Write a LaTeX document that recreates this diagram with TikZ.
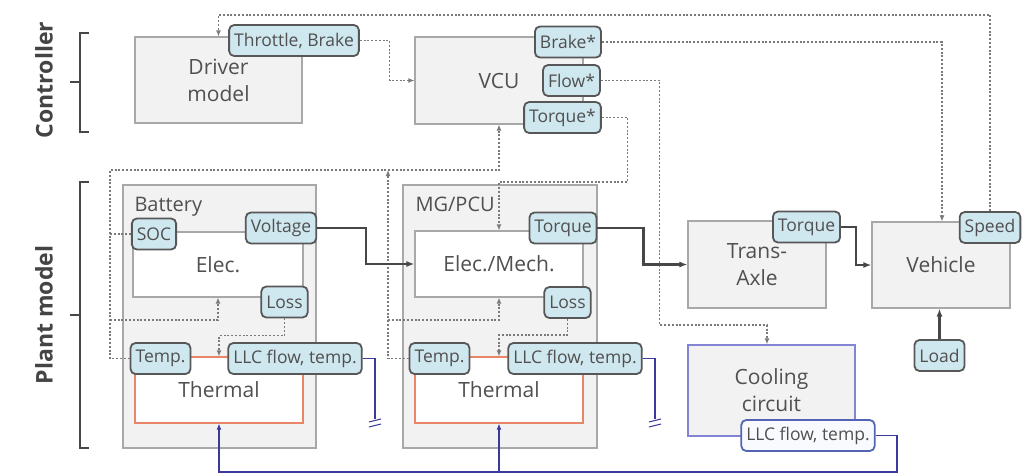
\documentclass[tikz,border=0pt]{standalone}
\usepackage{fontspec}
\setmainfont{Open Sans}
\usetikzlibrary{arrows.meta}
\definecolor{boxfill}{HTML}{F2F2F2}
\definecolor{boxline}{HTML}{A8A8A8}
\definecolor{tagfill}{HTML}{CFE7EE}
\definecolor{tagline}{HTML}{575757}
\definecolor{txt}{HTML}{505050}
\definecolor{sigcol}{HTML}{7A7A7A}
\definecolor{therm}{HTML}{E8866A}
\definecolor{coolcol}{HTML}{3A3A9C}
\definecolor{coolbox}{HTML}{8484D6}
\definecolor{cooltagline}{HTML}{5364B4}
\definecolor{powcol}{HTML}{474747}

\tikzset{
  block/.style={draw=boxline, fill=boxfill, line width=1.1pt, inner sep=0pt,
    align=center, text=txt, font=\fontsize{21}{27}\selectfont},
  innerbox/.style={block, fill=white},
  thermbox/.style={block, fill=white, draw=therm, line width=1.15pt},
  tag/.style={draw=tagline, fill=tagfill, line width=1.8pt, rounded corners=5pt,
    inner xsep=5pt, inner ysep=0pt, minimum height=31pt, text=txt,
    font=\fontsize{17.5}{19}\selectfont},
  cooltag/.style={tag, draw=cooltagline, fill=tagfill!85!blue!8},
  sig/.style={draw=sigcol, line width=1.2pt, dash pattern=on 2pt off 1.8pt},
  tip/.style={-{Latex[length=6pt,width=5pt]}},
  power/.style={draw=powcol, line width=2.4pt, -{Latex[length=8pt,width=6pt]}},
  cool/.style={draw=coolcol, line width=1.6pt},
  brace/.style={draw=powcol, line width=2pt},
  grouplbl/.style={rotate=90, text=txt!85!black, font=\fontsize{23}{26}\selectfont\bfseries},
  sublbl/.style={anchor=base west, text=txt, font=\fontsize{20}{24}\selectfont}
}

\begin{document}
\begin{tikzpicture}[x=1pt, y=-1pt]
\fill[white] (0,0) rectangle (1026,475);
\useasboundingbox (0,0) rectangle (1026,475);

% group labels and brackets
\node[grouplbl] (ctrllbl) at (44,80) {Controller};
\node[grouplbl] (plantlbl) at (44,315) {Plant model};
\draw[brace] (89,33) -- (80,33) -- (80,132) -- (89,132);
\draw[brace] (80,82) -- (70,82);
\draw[brace] (89,182) -- (80,182) -- (80,448) -- (89,448);
\draw[brace] (80,315) -- (70,315);

% controller blocks
\node[block, minimum width=167pt, minimum height=86pt] (driver) at (218.5,80) {Driver\\model};
\node[block, minimum width=168pt, minimum height=87pt] (vcu) at (499,80.5) {VCU};

% battery
\node[block, minimum width=193pt, minimum height=263pt] (bat) at (219.5,316.5) {};
\node[sublbl] (batlbl) at (131,211) {Battery};
\node[innerbox, minimum width=170pt, minimum height=65pt] (batelec) at (218,264.5) {Elec.};
\node[thermbox, minimum width=168pt, minimum height=66pt] (batth) at (219,390) {Thermal};

% motor-generator / power control unit
\node[block, minimum width=194pt, minimum height=263pt] (mg) at (500,316.5) {};
\node[sublbl] (mglbl) at (412,211) {MG/PCU};
\node[innerbox, minimum width=168pt, minimum height=66pt] (mgelec) at (499,264) {Elec./Mech.};
\node[thermbox, minimum width=168pt, minimum height=66pt] (mgth) at (499,390) {Thermal};

% driveline and cooling
\node[block, minimum width=138pt, minimum height=87pt] (trans) at (757,264.5) {Trans-\\Axle};
\node[block, minimum width=138pt, minimum height=86pt] (vehicle) at (941,265) {Vehicle};
\node[block, draw=coolbox, line width=1.4pt, minimum width=167pt, minimum height=91pt] (cooling) at (771.5,390.5) {Cooling\\circuit};

% ports
\node[tag] (tb) at (294,40.5) {Throttle, Brake};
\node[tag] (brk) at (568,42) {Brake*};
\node[tag] (flow) at (571.5,80.5) {Flow*};
\node[tag] (tqs) at (562.5,117.5) {Torque*};
\node[tag] (soc) at (154,234) {SOC};
\node[tag] (volt) at (281,228) {Voltage};
\node[tag] (bloss) at (284.5,302) {Loss};
\node[tag] (btemp) at (160.5,358.5) {Temp.};
\node[tag] (bllc) at (295,358.5) {LLC flow, temp.};
\node[tag] (mtq) at (563,228) {Torque};
\node[tag] (mloss) at (567.5,302.5) {Loss};
\node[tag] (mtemp) at (439.5,358.5) {Temp.};
\node[tag] (mllc) at (575,358.5) {LLC flow, temp.};
\node[tag] (ttq) at (806.5,227) {Torque};
\node[tag] (spd) at (990,227.5) {Speed};
\node[tag] (load) at (939.5,355.5) {Load};
\node[cooltag] (cllc) at (808,435.5) {LLC flow, temp.};

% bend points and open ends
\coordinate (bbus) at (110,320);
\coordinate (mbus) at (388,320);
\coordinate (bopen) at (375,419);
\coordinate (mopen) at (655,419);
\coordinate (cret) at (897,472);

% control signals
\draw[sig, tip] (tb.east) -- ++(30,0) |- (vcu.west);
\draw[sig, tip] (brk.east) -| ([xshift=1pt]vehicle.north);
\draw[sig, tip] (flow.east) -- ++(59,0) |- ([xshift=-4.5pt]cooling.north |- 0,325) -- ([xshift=-4.5pt]cooling.north);
\draw[sig, tip] (tqs.east) -- ++(26,0) |- (mgelec.north |- 0,182) -- (mgelec.north);
\draw[sig, tip] (spd.north) |- (driver.north |- 0,15) -- (driver.north);
\draw[sig, tip] (btemp.west) -| (110,170) -| (vcu.south);
\draw[sig] (soc.west) -- (soc.west -| bbus);
\draw[sig, tip] (bbus) -| (batelec.south);
\draw[sig, tip] (mtemp.west) -| (mbus |- 0,170);
\draw[sig, tip] (mbus) -| (mgelec.south);
\draw[sig, tip] (bloss.south) -- ++(0,17) -| (batth.north);
\draw[sig, tip] (mloss.south) -- ++(0,16) -| (mgth.north);

% power flow
\draw[power] (volt.east) -- ++(49,0) |- (mgelec.west);
\draw[power] (mtq.east) -- ++(46,0) |- (trans.west);
\draw[power] (ttq.east) -- ++(15,0) |- (vehicle.west);
\draw[power] (load.north) -- (load.north |- vehicle.south);

% coolant loop
\draw[cool] (bllc.east) -| (bopen);
\draw[cool] (mllc.east) -| (mopen);
\foreach \p in {bopen, mopen} {
  \draw[cool, line width=1pt] ([shift={(-6,3)}]\p) -- ([shift={(6,0)}]\p);
  \draw[cool, line width=1pt] ([shift={(-6,8)}]\p) -- ([shift={(6,5)}]\p);
}
\draw[cool, -{Latex[length=6pt,width=5pt]}] (cllc.east) -| (cret) -| (batth.south);
\draw[cool, -{Latex[length=6pt,width=5pt]}] (mgth.south |- cret) -- (mgth.south);
\end{tikzpicture}
\end{document}
